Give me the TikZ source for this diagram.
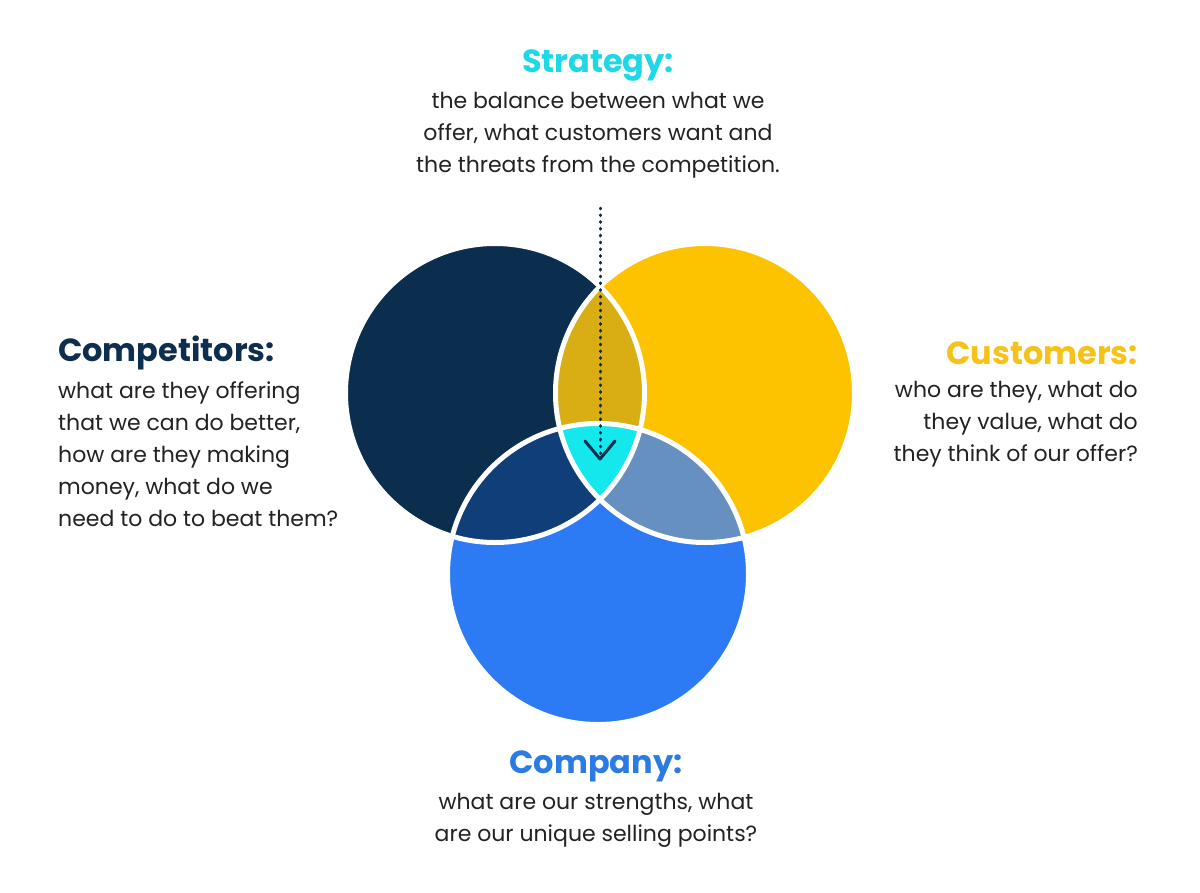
\documentclass[tikz,border=0pt]{standalone}
\usepackage{fontspec}
\setmainfont{Poppins}
\definecolor{cnavy}{HTML}{0B2D4E}
\definecolor{cyellow}{HTML}{FDC300}
\definecolor{cblue}{HTML}{2D7BF4}
\definecolor{cgold}{HTML}{D8AE14}
\definecolor{cnavyblue}{HTML}{0F3E78}
\definecolor{cgreyblue}{HTML}{6690BF}
\definecolor{ccyan}{HTML}{14E8EC}
\definecolor{tstrat}{HTML}{1FD8E6}
\definecolor{tcomp}{HTML}{0E2E4F}
\definecolor{tcust}{HTML}{F6C21A}
\definecolor{tcompany}{HTML}{2B7BE4}
\definecolor{tbody}{HTML}{222222}
\tikzset{
  title/.style={inner sep=0pt, font=\fontsize{32}{38}\selectfont\bfseries},
  body/.style={inner sep=0pt, text=tbody, font=\fontsize{22}{32}\selectfont},
  sep/.style={draw=white, line width=5pt},
  dots/.style={draw=cnavy, line width=3pt, line cap=round, dash pattern=on 0.8pt off 6pt},
  chev/.style={draw=cnavy, line width=3pt, line cap=round, line join=round}
}
\begin{document}
\begin{tikzpicture}[x=1pt,y=-1pt]
\useasboundingbox (0,0) rectangle (1200,892);
\fill[white] (0,0) rectangle (1200,892);
\def\rr{149.5}
\def\rb{150.5}
\coordinate (N) at (495,393);
\coordinate (Y) at (705,393);
\coordinate (B) at (598,574);
% base circles
\fill[cnavy] (N) circle (\rr);
\fill[cyellow] (Y) circle (\rr);
\fill[cblue] (B) circle (\rb);
% pairwise overlaps
\begin{scope}
  \clip (N) circle (\rr);
  \fill[cgold] (Y) circle (\rr);
  \fill[cnavyblue] (B) circle (\rb);
\end{scope}
\begin{scope}
  \clip (Y) circle (\rr);
  \fill[cgreyblue] (B) circle (\rb);
\end{scope}
\begin{scope}
  \clip (N) circle (\rr);
  \clip (Y) circle (\rr);
  \fill[ccyan] (B) circle (\rb);
\end{scope}
% white separators
\draw[sep] (N) circle (\rr);
\draw[sep] (Y) circle (\rr);
\draw[sep] (B) circle (\rb);
% dotted pointer
\coordinate (ptop) at (600,208);
\coordinate (pend) at (600,455);
\draw[dots] (ptop) -- (pend);
\draw[chev] ([shift={(-15,-14)}]pend) -- ([shift={(0,4)}]pend) -- ([shift={(15,-14)}]pend);
% texts
\node[title, text=tstrat] (strat) at (598,66) {Strategy:};
\node[body, align=center, anchor=north] (stratb) at (598,92) {the balance between what we\\offer, what customers want and\\the threats from the competition.};
\node[title, text=tcomp, anchor=west] (comp) at (58,353) {Competitors:};
\node[body, align=left, anchor=north west] (compb) at (58,381) {what are they offering\\that we can do better,\\how are they making\\money, what do we\\need to do to beat them?};
\node[title, text=tcust, anchor=east] (cust) at (1138,353) {Customers:};
\node[body, align=right, anchor=north east] (custb) at (1138,381) {who are they, what do\\they value, what do\\they think of our offer?};
\node[title, text=tcompany] (compy) at (596,766) {Company:};
\node[body, align=center, anchor=north] (compyb) at (596,793) {what are our strengths, what\\are our unique selling points?};
\end{tikzpicture}
\end{document}
